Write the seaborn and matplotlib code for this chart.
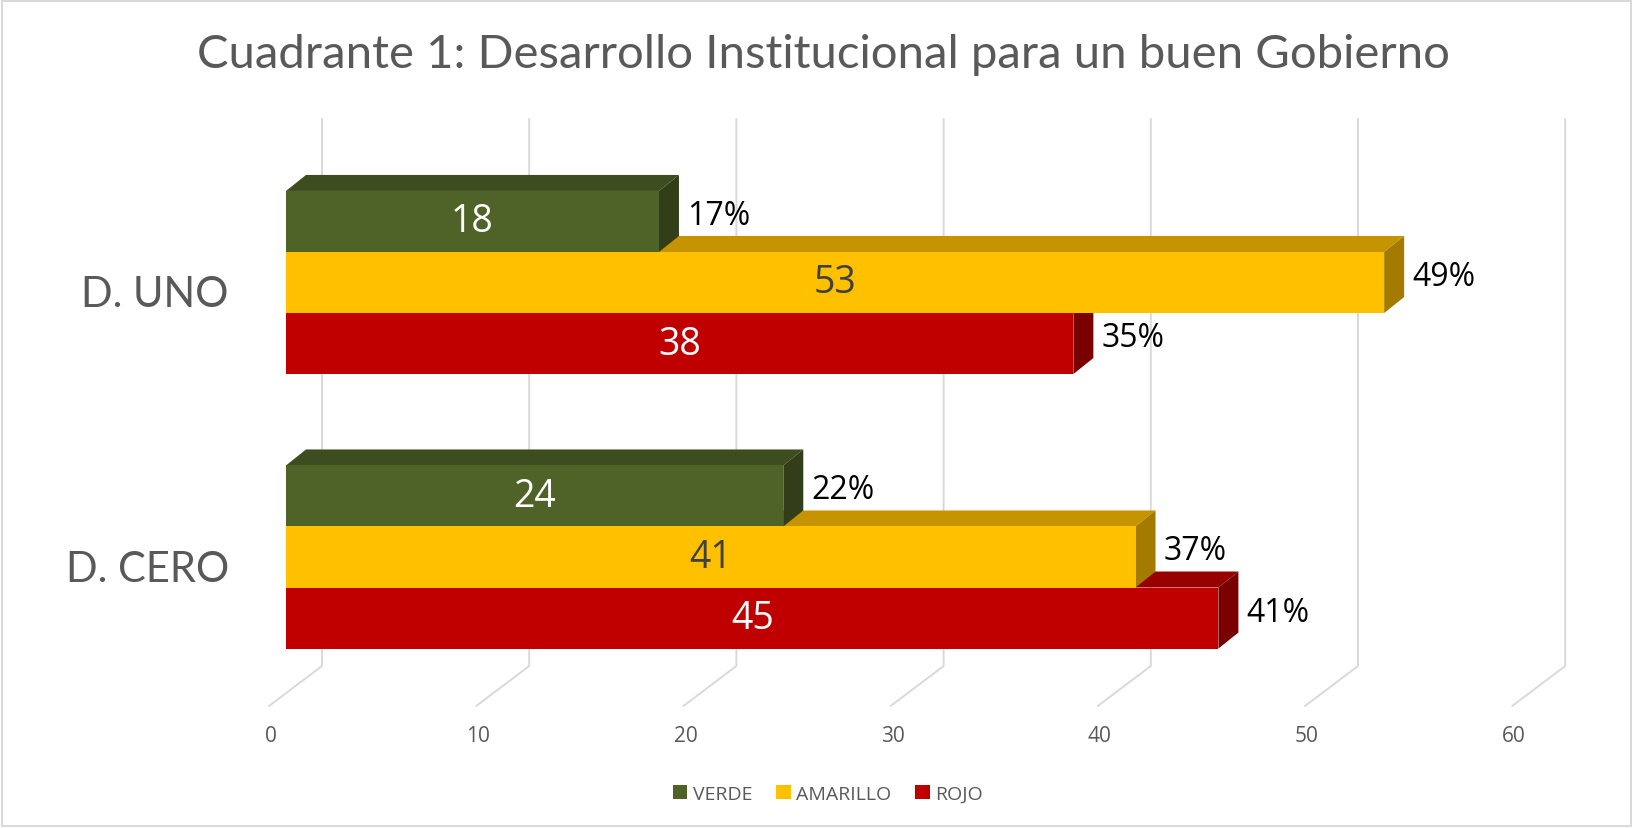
import pandas as pd
import matplotlib
matplotlib.use('Agg')
import matplotlib.pyplot as plt
import seaborn as sns
from matplotlib.patches import Polygon, Patch, Rectangle

# Datos del gráfico
dimensiones = ['D. UNO', 'D. CERO']
series = ['VERDE', 'AMARILLO', 'ROJO']
verde = [18, 24]
amarillo = [53, 41]
rojo = [38, 45]
pct_verde = [17, 22]
pct_amarillo = [49, 37]
pct_rojo = [35, 41]
ticks = [0, 10, 20, 30, 40, 50, 60]

valores = [verde, amarillo, rojo]
porcentajes = [pct_verde, pct_amarillo, pct_rojo]

df = pd.DataFrame({
    'dimension': dimensiones * len(series),
    'serie': [s for s in series for _ in dimensiones],
    'valor': verde + amarillo + rojo,
})

# Colores: cara frontal, cara superior, cara lateral
col_frente = ['#4F6228', '#FFC000', '#C00000']
col_arriba = ['#3E4D1F', '#C69400', '#980000']
col_lado = ['#323E19', '#A47B00', '#7A0000']
col_num = ['white', '#404040', 'white']
gris = '#595959'

sns.set_style('white')
plt.rcParams['font.family'] = ['Open Sans', 'DejaVu Sans']

W, H = 1633, 829
fig = plt.figure(figsize=(W / 100, H / 100), dpi=100)

# geometría en píxeles
x0_px, px_u = 286, 20.72
top_px, bot_px = 120, 667
cen_px, cat_px = 283.5, 274.5

ax = fig.add_axes([x0_px / W, 1 - bot_px / H, 60 * px_u / W, (bot_px - top_px) / H])

sns.barplot(data=df, x='valor', y='dimension', hue='serie', orient='h',
            palette=col_frente, saturation=1, width=0.667, errorbar=None,
            legend=False, linewidth=0, ax=ax)

ax.set_xlim(0, 60)
ax.set_ylim((bot_px - cen_px) / cat_px, (top_px - cen_px) / cat_px)
ax.set_axis_off()


def dx(p):
    return p / px_u


def yd(p):
    return (p - cen_px) / cat_px


# rejilla en 3D (pared del fondo + suelo)
for v in ticks:
    xb = v + dx(36)
    ax.plot([xb, xb, v + dx(269 - 286)], [yd(top_px), yd(bot_px), yd(707)],
            color='#D9D9D9', lw=1.4, zorder=0, clip_on=False)
    ax.text(v + dx(271 - 286), yd(737), str(v), ha='center', va='center',
            fontsize=15, color=gris)

# profundidad de las barras
prof_x, prof_y = dx(20), 16 / cat_px

for k, cont in enumerate(ax.containers):
    base = 3 * (len(series) - k)
    for i, bar in enumerate(cont):
        x, y, w, h = bar.get_x(), bar.get_y(), bar.get_width(), bar.get_height()
        bar.set_zorder(base + 1)
        arriba = Polygon([(x, y), (x + w, y), (x + w + prof_x, y - prof_y), (x + prof_x, y - prof_y)],
                         closed=True, fc=col_arriba[k], ec='none', zorder=base, clip_on=False)
        lado = Polygon([(x + w, y), (x + w, y + h), (x + w + prof_x, y + h - prof_y), (x + w + prof_x, y - prof_y)],
                       closed=True, fc=col_lado[k], ec='none', zorder=base, clip_on=False)
        ax.add_patch(arriba)
        ax.add_patch(lado)
        ax.text(x + w / 2, y + h / 2, str(valores[k][i]), ha='center', va='center',
                fontsize=27, color=col_num[k], zorder=20)
        ax.text(x + w + prof_x + dx(8), y + h / 2 - 6 / cat_px, f'{porcentajes[k][i]}%',
                ha='left', va='center', fontsize=23, color='black', zorder=20)

# etiquetas de categorías
for i, d in enumerate(dimensiones):
    ax.text(dx(229 - 286), i + 12 / cat_px, d, ha='right', va='center', fontsize=30,
            color=gris, family=['Lato', 'DejaVu Sans'])

fig.text(823.5 / W, 1 - 68 / H, 'Cuadrante 1: Desarrollo Institucional para un buen Gobierno',
         ha='center', va='baseline', fontsize=34, color=gris,
         family=['Lato', 'DejaVu Sans'])

handles = [Patch(fc=c, ec='none', label=s) for c, s in zip(col_frente, series)]
fig.legend(handles=handles, loc='center', bbox_to_anchor=(828 / W, 1 - 795 / H), ncol=3,
           frameon=False, fontsize=14, handlelength=0.75, handleheight=0.75,
           handletextpad=0.3, columnspacing=1.2, labelcolor=gris)

fig.patches.append(Rectangle((2 / W, 2 / H), (W - 4) / W, (H - 4) / H, transform=fig.transFigure,
                             fill=False, ec='#D9D9D9', lw=1.5))

fig.savefig('out.png', dpi=100)
